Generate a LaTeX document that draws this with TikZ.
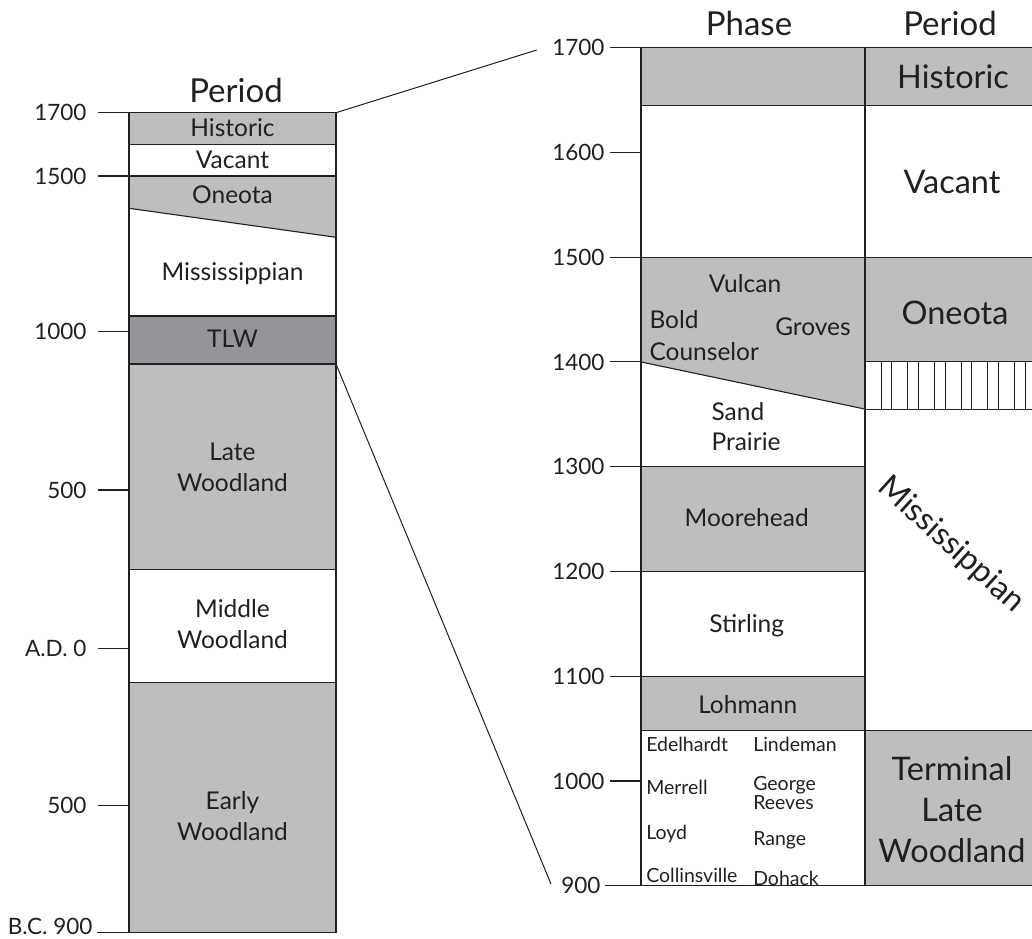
\documentclass[tikz,border=0pt]{standalone}
\usepackage{fontspec}
\setmainfont{Lato}
\usetikzlibrary{calc}

\definecolor{pgray}{RGB}{188,190,192}
\definecolor{dgray}{RGB}{147,149,152}
\definecolor{ink}{RGB}{35,31,32}

\begin{document}
\begin{tikzpicture}[x=1pt,y=1pt,
  line width=1.1pt, draw=ink, text=ink,
  hdr/.style={inner sep=0pt, font=\fontsize{33}{38}\selectfont},
  lname/.style={inner sep=0pt, align=center, font=\fontsize{24.5}{31}\selectfont},
  axl/.style={inner sep=0pt, anchor=east, font=\fontsize{22.5}{27}\selectfont},
  big/.style={inner sep=0pt, align=center, font=\fontsize{32.5}{41}\selectfont},
  phs/.style={inner sep=0pt, align=center, font=\fontsize{24.5}{30}\selectfont},
  sml/.style={inner sep=0pt, anchor=west, align=left, font=\fontsize{19.5}{18.7}\selectfont}]

\useasboundingbox (0,0) rectangle (1032,938);

% Parameters
\def\la{129}   % left column, left side
\def\lb{336}   % left column, right side
\def\ra{641}   % phase column, left side
\def\rb{865}   % phase / period divider
\def\rc{1032}  % right edge
\def\yc#1{52.3+(#1-900)*1.0475}

% Left column fills
\fill[pgray] (\la,825.3) rectangle (\lb,793.7);
\fill[pgray] (\la,762) -- (\lb,762) -- (\lb,700.7) -- (\la,729.7) -- cycle;
\fill[dgray] (\la,622) rectangle (\lb,574);
\fill[pgray] (\la,574) rectangle (\lb,368.7);
\fill[pgray] (\la,255.7) rectangle (\lb,5.7);

% Left column lines
\draw (\la,825.3) rectangle (\lb,5.7);
\draw (\la,793.7) -- (\lb,793.7);
\draw (\la,762) -- (\lb,762);
\draw (\la,729.7) -- (\lb,700.7);
\draw (\la,622) -- (\lb,622);
\draw (\la,574) -- (\lb,574);
\draw (\la,368.7) -- (\lb,368.7);
\draw (\la,255.7) -- (\lb,255.7);

% Left ticks
\foreach \y/\t [count=\i] in {825.3/1700,762/1500,606.3/1000,448/500,289.7/A.D. 0,132.3/500}{
  \draw (98,\y) -- (\la,\y);
  \node[axl] (lt\i) at (87,\y) {\t};
}
\draw (97,5.7) -- (\la,5.7);
\node[axl] (lbc) at (93,12) {B.C. 900};

% Left labels
\node[hdr] (lperiod) at (236,848) {Period};
\node[lname] (lhist) at (232.5,810.5) {Historic};
\node[lname] (lvac) at (232.5,778) {Vacant};
\node[lname] (lone) at (232.5,743.5) {Oneota};
\node[lname] (lmiss) at (232.5,664) {Mississippian};
\node[lname] (ltlw) at (232.5,599.5) {TLW};
\node[lname] (llate) at (232.5,471) {Late\\Woodland};
\node[lname] (lmid) at (232.5,314) {Middle\\Woodland};
\node[lname] (learly) at (232.5,122.3) {Early\\Woodland};

% Right fills
\fill[pgray] (\ra,{\yc{1700}}) rectangle (\rc,{\yc{1645}});
\fill[pgray] (\ra,{\yc{1500}}) -- (\rb,{\yc{1500}}) -- (\rb,{\yc{1355}}) -- (\ra,{\yc{1400}}) -- cycle;
\fill[pgray] (\rb,{\yc{1500}}) rectangle (\rc,{\yc{1400}});
\fill[pgray] (\ra,{\yc{1300}}) rectangle (\rb,{\yc{1200}});
\fill[pgray] (\ra,{\yc{1100}}) rectangle (\rb,{\yc{1048}});
\fill[pgray] (\rb,{\yc{1048}}) rectangle (\rc,{\yc{900}});

% Right lines
\draw (\ra,{\yc{1700}}) -- (\ra,{\yc{900}});
\draw (\rb,{\yc{1700}}) -- (\rb,{\yc{900}});
\draw[line width=2pt] (\ra,{\yc{1700}}) -- (\ra,{\yc{1645}});
\draw (\ra,{\yc{1700}}) -- (\rc,{\yc{1700}});
\draw (\ra,{\yc{1645}}) -- (\rc,{\yc{1645}});
\draw (\ra,{\yc{1500}}) -- (\rc,{\yc{1500}});
\draw (\ra,{\yc{1400}}) -- (\rb,{\yc{1355}});
\draw (\rb,{\yc{1400}}) -- (\rc,{\yc{1400}});
\draw (\rb,{\yc{1355}}) -- (\rc,{\yc{1355}});
\draw (\ra,{\yc{1300}}) -- (\rb,{\yc{1300}});
\draw (\ra,{\yc{1200}}) -- (\rb,{\yc{1200}});
\draw (\ra,{\yc{1100}}) -- (\rb,{\yc{1100}});
\draw (\ra,{\yc{1048}}) -- (\rc,{\yc{1048}});
\draw (605,{\yc{900}}) -- (\rc,{\yc{900}});

% Hatching under Oneota
\foreach \hx in {881,891.7,907.7,918.4,934.4,945.1,961.1,971.8,987.8,998.5,1014.5,1025.2}
  \draw[line width=0.8pt] (\hx,{\yc{1400}}) -- (\hx,{\yc{1355}});

% Right ticks
\foreach \yy in {1700,1600,...,1000}{
  \draw (610,{\yc{\yy}}) -- (\ra,{\yc{\yy}});
  \node[axl] (rt\yy) at (605,{\yc{\yy}}) {\yy};
}
\node[axl] (rt900) at (601,{\yc{900}}) {900};

% Right headers
\node[hdr] (phase) at (749,914.7) {Phase};
\node[hdr] (rperiod) at (950,915) {Period};

% Period column
\node[big] (rhist) at (953,861.3) {Historic};
\node[big] (rvac) at (952,756.3) {Vacant};
\node[big] (rone) at (955,624.7) {Oneota};
\node[big, rotate=-42, font=\fontsize{32}{41}\selectfont] (rmiss) at (951,393) {Mississippian};
\node[big] (rtlw) at (952,128) {Terminal\\Late\\Woodland};

% Phase column
\node[phs] (vulcan) at (745,654) {Vulcan};
\node[phs, anchor=west] (bold) at (649,618) {Bold};
\node[phs] (groves) at (813,611) {Groves};
\node[phs, anchor=west] (counsel) at (649,586.3) {Counselor};
\node[phs, anchor=west, align=left] (sand) at (711,511.8) {Sand\\Prairie};
\node[phs] (moore) at (746.7,420.3) {Moorehead};
\node[phs] (stirl) at (746.7,312) {Stirling};
\node[phs] (lohm) at (747.7,233.7) {Lohmann};

% Small phases
\node[sml] (edel) at (645.7,194) {Edelhardt};
\node[sml] (linde) at (752.7,194) {Lindeman};
\node[sml] (merr) at (645.7,150.3) {Merrell};
\node[sml] (george) at (752.7,145) {George\\Reeves};
\node[sml] (loyd) at (645.7,104.5) {Loyd};
\node[sml] (range) at (752.7,97.5) {Range};
\node[sml] (coll) at (645.7,63) {Collinsville};
\node[sml] (doh) at (752.7,60) {Dohack};

% Zoom lines
\coordinate (ltop) at (\lb,825.3);
\coordinate (lcut) at (\lb,574);
\coordinate (ztop) at (536.7,888);
\coordinate (zbot) at (551,54);
\draw[line width=1pt] (ltop) -- (ztop);
\draw[line width=1pt] (lcut) -- (zbot);

\end{tikzpicture}
\end{document}
